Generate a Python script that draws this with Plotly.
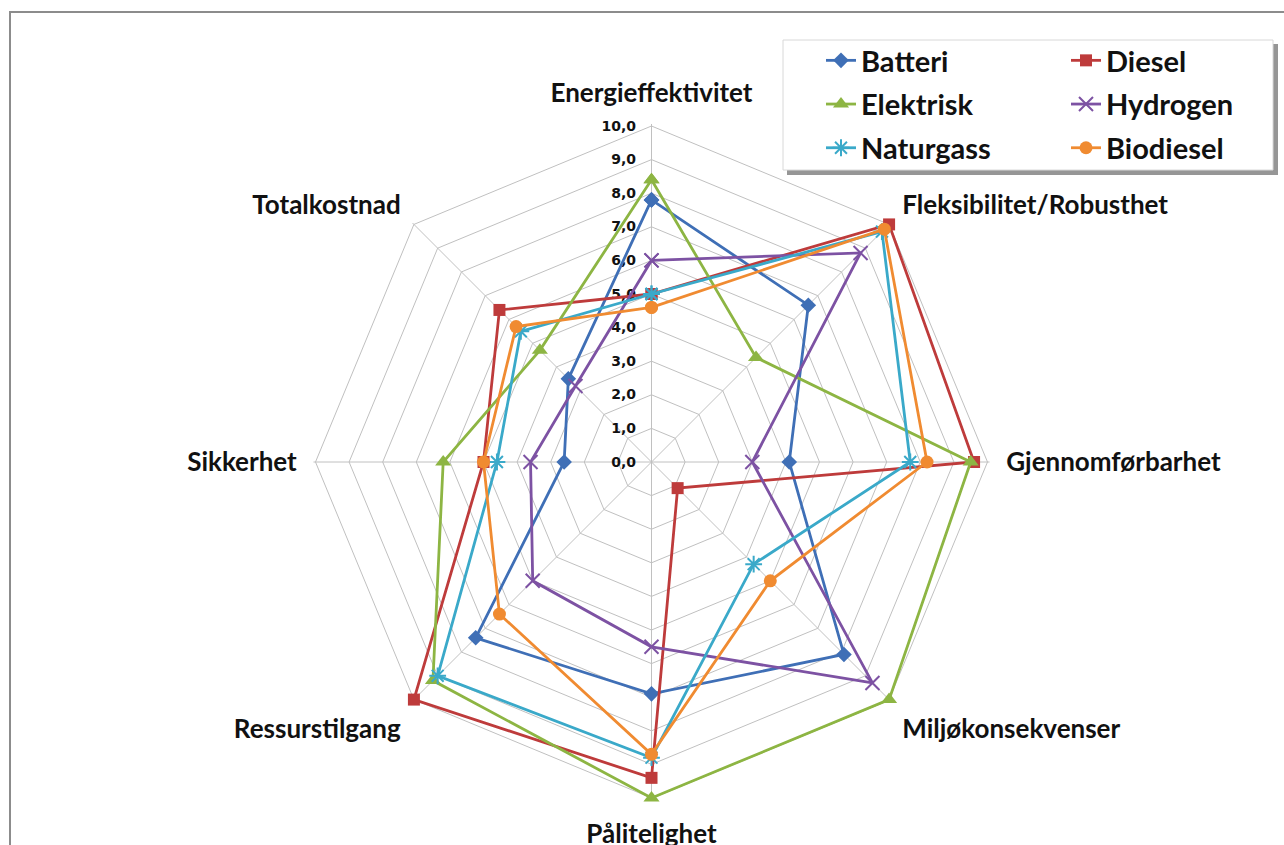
import plotly.graph_objects as go

categories = ["Energieffektivitet", "Fleksibilitet/Robusthet", "Gjennomførbarhet",
              "Miljøkonsekvenser", "Pålitelighet", "Ressurstilgang", "Sikkerhet", "Totalkostnad"]

batteri = [7.8, 6.6, 4.1, 8.1, 6.9, 7.4, 2.6, 3.5]
diesel = [5.0, 10.0, 9.6, 1.1, 9.4, 10.0, 5.0, 6.4]
elektrisk = [8.4, 4.4, 9.5, 10.0, 10.0, 9.2, 6.2, 4.7]
hydrogen = [6.0, 8.8, 3.0, 9.3, 5.5, 5.0, 3.6, 3.2]
naturgass = [5.0, 9.7, 7.7, 4.3, 8.8, 9.0, 4.6, 5.5]
biodiesel = [4.6, 9.8, 8.2, 5.0, 8.7, 6.4, 5.0, 5.7]

tick_vals = [0, 1, 2, 3, 4, 5, 6, 7, 8, 9, 10]
tick_text = ["0,0", "1,0", "2,0", "3,0", "4,0", "5,0", "6,0", "7,0", "8,0", "9,0", "10,0"]

# name, values, colour, symbol, size, marker line width, legend
series = [
    ("Batteri", batteri, "#3F6FB6", "diamond", 12, 0, "legend"),
    ("Diesel", diesel, "#BE3B3B", "square", 12, 0, "legend2"),
    ("Elektrisk", elektrisk, "#8DB543", "triangle-up", 14, 0, "legend"),
    ("Hydrogen", hydrogen, "#7D52A3", "x-thin-open", 14, 2, "legend2"),
    ("Naturgass", naturgass, "#3AA9C9", "asterisk-open", 14, 2, "legend"),
    ("Biodiesel", biodiesel, "#F08B31", "circle", 13, 0, "legend2"),
]

W, H = 1284, 845
RMAX = 10.06
cx, cy = 651.5, 462
R = 336 * RMAX / 10

fig = go.Figure()
for name, vals, color, sym, size, mlw, lg in series:
    fig.add_trace(go.Scatterpolar(
        r=vals + vals[:1],
        theta=categories + categories[:1],
        mode="lines+markers",
        name=name,
        legend=lg,
        legendgroup=name,
        cliponaxis=False,
        line=dict(color=color, width=2.8),
        marker=dict(symbol=sym, size=size, color=color,
                    line=dict(color=color, width=mlw)),
    ))

legend_font = dict(family="Lato", size=29, weight="bold", color="#111")

fig.update_layout(
    width=W, height=H,
    margin=dict(l=0, r=0, t=0, b=0),
    paper_bgcolor="white",
    plot_bgcolor="white",
    font=dict(family="Lato", color="black"),
    polar=dict(
        domain=dict(x=[(cx - R) / W, (cx + R) / W], y=[(H - cy - R) / H, (H - cy + R) / H]),
        bgcolor="white",
        gridshape="linear",
        radialaxis=dict(
            range=[0, RMAX], tickvals=tick_vals, ticktext=tick_text,
            angle=90, tickangle=90, side="counterclockwise",
            showline=False, gridcolor="#C0C0C0", gridwidth=1,
            ticks="outside", ticklen=10, tickcolor="rgba(0,0,0,0)",
            layer="below traces",
            tickfont=dict(family="DejaVu Sans", size=14, weight="bold", color="#111"),
        ),
        angularaxis=dict(
            rotation=90, direction="clockwise",
            gridcolor="#C0C0C0", gridwidth=1,
            showline=False,
            ticks="outside", ticklen=11, tickcolor="rgba(0,0,0,0)",
            layer="below traces",
            tickfont=dict(family="Lato", size=26, weight="bold", color="#111"),
        ),
    ),
    legend=dict(
        x=821 / W, y=1 - 35 / H, xanchor="left", yanchor="top",
        font=legend_font, bgcolor="rgba(0,0,0,0)", borderwidth=0,
        tracegroupgap=3,
    ),
    legend2=dict(
        x=1066 / W, y=1 - 35 / H, xanchor="left", yanchor="top",
        font=legend_font, bgcolor="rgba(0,0,0,0)", borderwidth=0,
        tracegroupgap=3,
    ),
    shapes=[
        dict(type="rect", xref="paper", yref="paper",
             x0=10 / W, y0=-0.05, x1=1.05, y1=1 - 12 / H,
             line=dict(color="#8C8C8C", width=2), fillcolor="rgba(0,0,0,0)", layer="below"),
        dict(type="rect", xref="paper", yref="paper",
             x0=787 / W, y0=1 - 175 / H, x1=1278 / W, y1=1 - 44 / H,
             line=dict(width=0), fillcolor="rgba(80,80,80,0.6)", layer="above"),
        dict(type="rect", xref="paper", yref="paper",
             x0=783 / W, y0=1 - 170 / H, x1=1273 / W, y1=1 - 40 / H,
             line=dict(color="#D8D8D8", width=1), fillcolor="white", layer="above"),
    ],
)

fig.write_html("out.html", config={"displayModeBar": False},
               post_script="document.body.style.margin='0';")
